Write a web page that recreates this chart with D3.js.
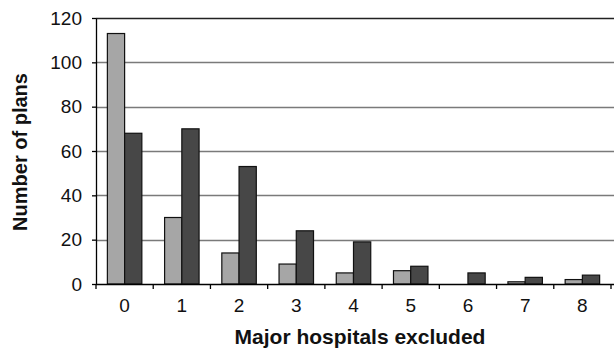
<!DOCTYPE html>
<html>
<head>
<meta charset="utf-8">
<script src="https://cdn.jsdelivr.net/npm/d3@7"></script>
<style>
  html, body { margin: 0; padding: 0; background: #fff; }
  svg { display: block; font-family: "Liberation Sans", Arial, sans-serif; }
</style>
</head>
<body>
<svg id="chart" width="614" height="349"></svg>
<script>
const categories = ["0", "1", "2", "3", "4", "5", "6", "7", "8"];
const seriesNames = ["A", "B"];
const seriesLight = [113, 30, 14, 9, 5, 6, 0, 1, 2];
const seriesDark = [68, 70, 53, 24, 19, 8, 5, 3, 4];
const yTicks = [0, 20, 40, 60, 80, 100, 120];
const xTitle = "Major hospitals excluded";
const yTitle = "Number of plans";

const colors = { A: "#a6a6a6", B: "#474747" };
const data = categories.map((c, i) => ({ cat: c, A: seriesLight[i], B: seriesDark[i] }));

const svg = d3.select("#chart");
const mLeft = 96, mRight = 611, mTop = 18, mBottom = 284;

const x0 = d3.scaleBand().domain(categories).range([mLeft, mRight]).paddingInner(0).paddingOuter(0);
const x1 = d3.scaleBand().domain(seriesNames).range([0, x0.bandwidth()]).paddingInner(0).paddingOuter(0.66);
const y = d3.scaleLinear().domain([0, 120]).range([mBottom, mTop]);

// gridlines
svg.append("g").selectAll("line")
  .data(yTicks.filter(t => t > 0))
  .join("line")
  .attr("x1", mLeft).attr("x2", 614)
  .attr("y1", d => Math.round(y(d)) + 0.5).attr("y2", d => Math.round(y(d)) + 0.5)
  .attr("stroke", d => d === 120 ? "#222" : "#7a7a7a")
  .attr("stroke-width", d => d === 120 ? 1.5 : 1.3);

// bars
const groups = svg.append("g").selectAll("g")
  .data(data).join("g")
  .attr("transform", d => `translate(${x0(d.cat)},0)`);
groups.selectAll("rect")
  .data(d => seriesNames.map(k => ({ k, v: d[k] })).filter(e => e.v > 0))
  .join("rect")
  .attr("x", e => x1(e.k))
  .attr("width", x1.bandwidth())
  .attr("y", e => y(e.v))
  .attr("height", e => mBottom - y(e.v))
  .attr("fill", e => colors[e.k])
  .attr("stroke", "#111")
  .attr("stroke-width", 1.2);

// y axis
const yAxis = d3.axisLeft(y).tickValues(yTicks).tickSize(4).tickSizeOuter(0).tickPadding(10);
const gy = svg.append("g").attr("transform", `translate(${mLeft},0)`).call(yAxis);
gy.select(".domain").attr("stroke", "#000").attr("stroke-width", 1.3);
gy.selectAll(".tick line").attr("stroke", "#000").attr("stroke-width", 1.3);
gy.selectAll(".tick text").attr("font-size", 19).attr("fill", "#111")
  .attr("font-family", "Liberation Sans, Arial, sans-serif");

// x axis line and boundary ticks
svg.append("line").attr("x1", mLeft).attr("x2", 614)
  .attr("y1", mBottom + 0.5).attr("y2", mBottom + 0.5)
  .attr("stroke", "#000").attr("stroke-width", 1.3);
const bounds = categories.map(c => x0(c)).concat([x0(categories[categories.length - 1]) + x0.bandwidth()]);
svg.append("g").selectAll("line").data(bounds).join("line")
  .attr("x1", d => d).attr("x2", d => d)
  .attr("y1", mBottom).attr("y2", mBottom + 5)
  .attr("stroke", "#000").attr("stroke-width", 1.3);
svg.append("g").selectAll("text").data(categories).join("text")
  .attr("x", c => x0(c) + x0.bandwidth() / 2)
  .attr("y", 312)
  .attr("text-anchor", "middle")
  .attr("font-size", 19)
  .attr("fill", "#111")
  .text(c => c);

// titles
svg.append("text")
  .attr("x", 360).attr("y", 344)
  .attr("text-anchor", "middle")
  .attr("font-size", 21).attr("font-weight", "bold").attr("fill", "#111")
  .text(xTitle);
svg.append("text")
  .attr("transform", "translate(27,152) rotate(-90)")
  .attr("text-anchor", "middle")
  .attr("font-size", 20).attr("font-weight", "bold").attr("fill", "#111")
  .text(yTitle);
</script>
</body>
</html>
